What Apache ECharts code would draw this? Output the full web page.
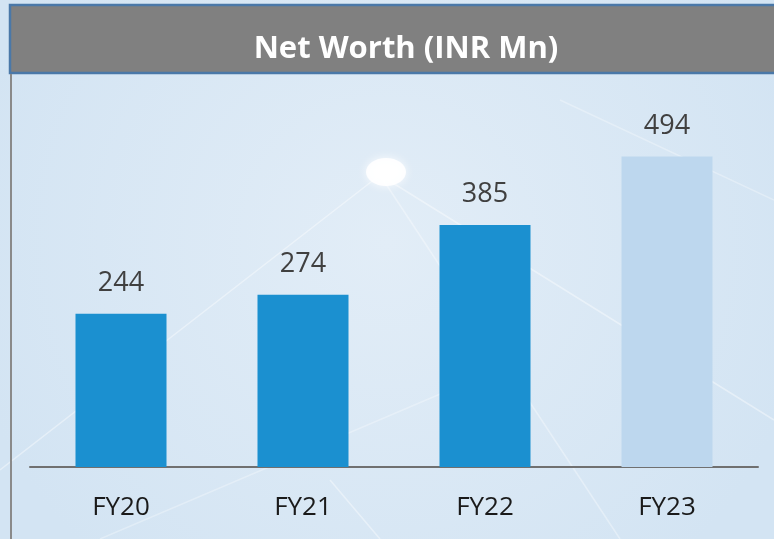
<!DOCTYPE html>
<html>
<head>
<meta charset="utf-8">
<script src="https://cdn.jsdelivr.net/npm/echarts@6/dist/echarts.min.js"></script>
<style>
html,body{margin:0;padding:0;}
#chart{width:774px;height:539px;}
</style>
</head>
<body>
<div id="chart"></div>
<script>
const titleText = "Net Worth (INR Mn)";
const categories = ["FY20", "FY21", "FY22", "FY23"];
const values = [244, 274, 385, 494];
const barColors = ["#1b90d0", "#1b90d0", "#1b90d0", "#bdd7ee"];

const chart = echarts.init(document.getElementById('chart'), null, {renderer: 'canvas'});
chart.setOption({
  animation: false,
  backgroundColor: {
    type: 'radial', x: 0.5, y: 0.45, r: 0.8,
    colorStops: [{offset: 0, color: '#e2edf7'}, {offset: 1, color: '#d3e4f3'}]
  },
  title: {
    text: titleText,
    left: 401, top: 44,
    textAlign: 'center', textVerticalAlign: 'middle',
    textStyle: {color: '#ffffff', fontFamily: 'Open Sans', fontWeight: 'bold', fontSize: 31}
  },
  graphic: [
    {type: 'line', silent: true, z: -1, shape: {x1: 0, y1: 470, x2: 380, y2: 175}, style: {stroke: 'rgba(255,255,255,0.4)', lineWidth: 1.5}},
    {type: 'line', silent: true, z: -1, shape: {x1: 380, y1: 175, x2: 774, y2: 420}, style: {stroke: 'rgba(255,255,255,0.4)', lineWidth: 1.5}},
    {type: 'line', silent: true, z: -1, shape: {x1: 380, y1: 175, x2: 620, y2: 539}, style: {stroke: 'rgba(255,255,255,0.35)', lineWidth: 1.5}},
    {type: 'line', silent: true, z: -1, shape: {x1: 100, y1: 539, x2: 520, y2: 360}, style: {stroke: 'rgba(255,255,255,0.3)', lineWidth: 1.5}},
    {type: 'line', silent: true, z: -1, shape: {x1: 330, y1: 480, x2: 380, y2: 539}, style: {stroke: 'rgba(255,255,255,0.4)', lineWidth: 1.5}},
    {type: 'line', silent: true, z: -1, shape: {x1: 560, y1: 100, x2: 774, y2: 200}, style: {stroke: 'rgba(255,255,255,0.3)', lineWidth: 1.5}},
    {type: 'ellipse', silent: true, z: -1, shape: {cx: 386, cy: 172, rx: 20, ry: 14}, style: {fill: 'rgba(255,255,255,0.9)', shadowBlur: 10, shadowColor: 'rgba(255,255,255,0.9)'}},
    {type: 'rect', silent: true, z: -1, shape: {x: 10, y: 5, width: 780, height: 68}, style: {fill: '#808080', stroke: '#4a78a8', lineWidth: 2.5}},
    {type: 'line', silent: true, z: -1, shape: {x1: 11, y1: 74, x2: 11, y2: 539}, style: {stroke: '#8a8a8a', lineWidth: 2}}
  ],
  grid: {left: 30, right: 16, top: 90, bottom: 72},
  xAxis: {
    type: 'category',
    data: categories,
    axisLine: {lineStyle: {color: '#707070', width: 2}},
    axisTick: {show: false},
    axisLabel: {color: '#1a1a1a', fontFamily: 'Open Sans', fontSize: 26, margin: 28}
  },
  yAxis: {type: 'value', min: 0, max: 600, show: false, splitLine: {show: false}},
  series: [{
    type: 'bar',
    barWidth: '50%',
    data: values.map((v, i) => ({value: v, itemStyle: {color: barColors[i]}})),
    label: {show: true, position: 'top', distance: 17, color: '#404040', fontFamily: 'Open Sans', fontSize: 27}
  }]
});
</script>
</body>
</html>
